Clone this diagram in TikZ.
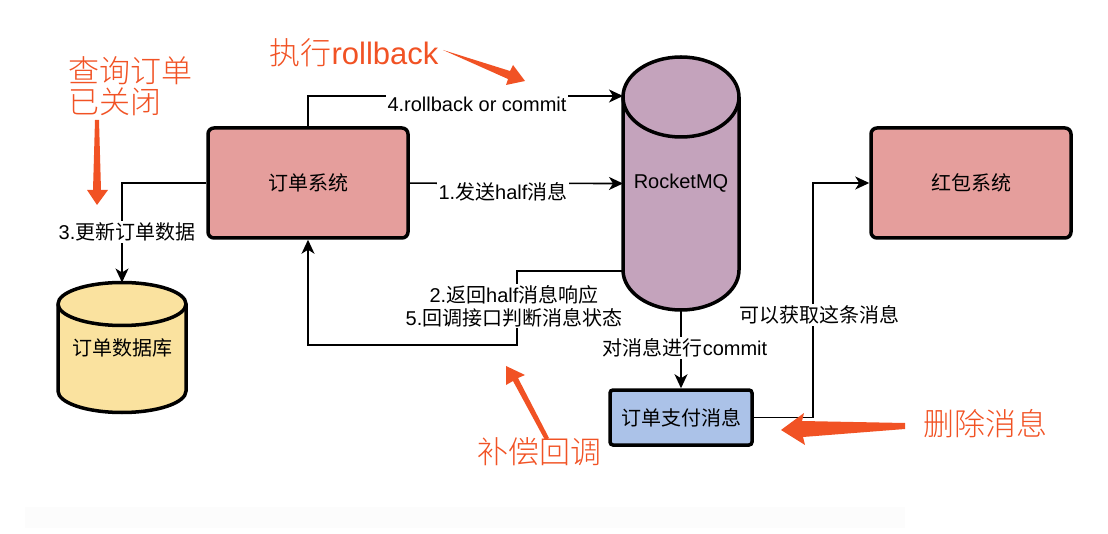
\documentclass[tikz,border=0pt]{standalone}
\usepackage{fontspec}
\setmainfont{Liberation Sans}
\newfontfamily\cjk{Noto Sans CJK SC}
\newfontfamily\cjkthin{Noto Sans CJK SC Light}
\newcommand{\cn}[1]{{\cjk #1}}
\newcommand{\cnthin}[1]{{\cjkthin #1}}
\usetikzlibrary{arrows.meta,backgrounds}
\definecolor{boxred}{HTML}{E59E9C}
\definecolor{mqpurple}{HTML}{C4A3BC}
\definecolor{dbyellow}{HTML}{FAE29F}
\definecolor{msgblue}{HTML}{ABC2E8}
\definecolor{noteorange}{HTML}{F15224}
\tikzset{
  sysbox/.style={draw,line width=3.5pt,rounded corners=6pt,fill=boxred,minimum width=200pt,minimum height=110pt,font=\fontsize{20}{23}\selectfont},
  msgbox/.style={draw,line width=3.5pt,rounded corners=3pt,fill=msgblue,minimum width=142pt,minimum height=55pt,font=\fontsize{20}{23}\selectfont},
  store/.style={inner sep=0pt,outer sep=0pt,font=\fontsize{20}{23}\selectfont},
  drumline/.style={line width=3.5pt},
  conn/.style={line width=1.6pt,-{Stealth[length=14pt,width=13pt,inset=4pt]}},
  lbl/.style={fill=white,inner sep=1.5pt,minimum height=22pt,align=center,font=\fontsize{20}{23}\selectfont},
  note/.style={text=noteorange,inner sep=0pt,align=left,font=\fontsize{31}{32}\selectfont},
}
% cylinder behind a node: name, colour, x radius, y radius
\newcommand{\drum}[4]{%
  \begin{scope}[on background layer]
    \draw[drumline,fill=#2] ([yshift=-#4pt]#1.north west) arc[start angle=180,end angle=0,x radius=#3pt,y radius=#4pt]
      -- ([yshift=#4pt]#1.south east) arc[start angle=0,end angle=-180,x radius=#3pt,y radius=#4pt] -- cycle;
    \draw[drumline] ([yshift=-#4pt]#1.north west) arc[start angle=180,end angle=360,x radius=#3pt,y radius=#4pt];
  \end{scope}}
\begin{document}
\begin{tikzpicture}[x=1pt,y=-1pt]
  \useasboundingbox (0,0) rectangle (1108,534);
  \fill[black!1] (25,507) rectangle (905,528);
  % systems
  \node[sysbox] (order) at (308,183) {\cn{订单系统}};
  \node[sysbox] (redpack) at (971,183) {\cn{红包系统}};
  \node[msgbox] (paymsg) at (681,417.5) {\cn{订单支付消息}};
  \node[store,minimum width=116pt,minimum height=253pt] (mq) at (681,183.5) {RocketMQ};
  \node[store,minimum width=128pt,minimum height=130pt] (db) at (122,347.5) {\cn{订单数据库}};
  \drum{mq}{mqpurple}{58}{40}
  \drum{db}{dbyellow}{64}{21.5}
  \coordinate (mqtop) at (623,96);
  \coordinate (mqout) at (623,271);
  \coordinate (turn) at (517,345);
  % connectors
  \draw[conn] (order.north) |- (mqtop);
  \draw[conn] (order) -- (mq.west);
  \draw[conn] (order.west) -| (db.north);
  \draw[conn] (mqout) -| (turn) -| (order.south);
  \draw[conn] (mq.south) -- (paymsg.north);
  \draw[conn] (paymsg.east) -- ++(59,0) |- (redpack.west);
  % labels
  \node[lbl] (l4) at (477,104) {4.rollback or commit};
  \node[lbl] (l1) at (503,192) {1.\cn{发送}half\cn{消息}};
  \node[lbl] (l3) at (127,232) {3.\cn{更新订单数据}};
  \node[lbl] (l2) at (514,306) {2.\cn{返回}half\cn{消息响应}\\5.\cn{回调接口判断消息状态}};
  \node[lbl] (lc) at (685,348) {\cn{对消息进行}commit};
  \node[lbl] (lg) at (819,315) {\cn{可以获取这条消息}};
  % orange notes
  \node[note,anchor=west] (n1) at (68,71) {\cnthin{查询订单}};
  \node[note,anchor=west] (n2) at (68,102) {\cnthin{已关闭}};
  \node[note] (n3) at (354,53) {\cnthin{执行}rollback};
  \node[note] (n4) at (539,452) {\cnthin{补偿回调}};
  \node[note] (n5) at (985,424) {\cnthin{删除消息}};
  \fill[noteorange] (95,120)--(99,120)--(101,190)--(108,190)--(97,205)--(87,190)--(93,190)--cycle;
  \fill[noteorange] (443,50)--(510,71)--(513,65)--(525,81)--(506,85)--(508,79)--cycle;
  \fill[noteorange] (549,438)--(518,378)--(525,375)--(506,366)--(506,385)--(513,381)--(545,440)--cycle;
  \fill[noteorange] (905,423)--(802,421)--(804,413)--(781,430)--(805,445)--(803,437)--(905,429)--cycle;
\end{tikzpicture}
\end{document}
